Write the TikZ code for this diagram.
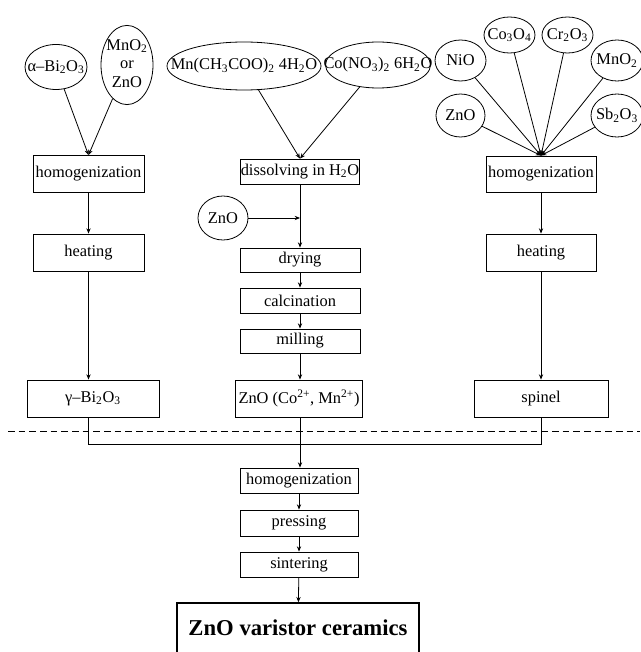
\documentclass[tikz,border=0pt]{standalone}
\usepackage{fontspec}
\setmainfont{Liberation Serif}
\usetikzlibrary{shapes.geometric,arrows.meta}
\newcommand{\zw}[1]{\makebox[0pt]{#1}}
\newcommand{\sub}[1]{\textsubscript{#1}}

\begin{document}
\begin{tikzpicture}[x=0.75pt,y=-0.75pt,line width=0.6pt,
    font=\fontsize{12.3}{14}\selectfont,
    box/.style 2 args={draw,rectangle,inner sep=0pt,minimum width=#1*0.75pt,minimum height=#2*0.75pt},
    oval/.style 2 args={draw,ellipse,inner sep=0pt,minimum width=#1*0.75pt,minimum height=#2*0.75pt},
    arr/.style={arrows={-Stealth[length=4pt,width=3.2pt]}}]
    \useasboundingbox (0,0) rectangle (640,652);
    % left branch
    \node[oval={62}{45}] (a1) at (56,67) {\zw{α--Bi\sub{2}O\sub{3}}};
    \node[oval={52}{75}] (a2) at (127,65) {\zw{\begin{tabular}{@{}c@{}}MnO\sub{2}\\or\\ZnO\end{tabular}}};
    \node[box={111}{37}] (h1) at (88.5,174) {homogenization};
    \node[box={111}{37}] (t1) at (88.5,252.5) {heating};
    \node[box={132}{37}] (g) at (93,398.5) {γ--Bi\sub{2}O\sub{3}};
    % middle branch
    \node[oval={154}{48}] (m1) at (244,66) {\zw{Mn(CH\sub{3}COO)\sub{2} 4H\sub{2}O}};
    \node[oval={105}{46}] (m2) at (378,65) {\zw{Co(NO\sub{3})\sub{2} 6H\sub{2}O}};
    \node[box={118}{25}] (d) at (300,171.5) {dissolving in H\sub{2}O};
    \node[oval={50}{44}] (z) at (223,218) {\zw{ZnO}};
    \coordinate (j) at (300,218);
    \node[box={120}{24}] (dr) at (300,260) {drying};
    \node[box={120}{25}] (ca) at (300,300.5) {calcination};
    \node[box={120}{24}] (mi) at (300,341) {milling};
    \node[box={127}{37}] (zc) at (299,398.5) {ZnO (Co\textsuperscript{2+}, Mn\textsuperscript{2+})};
    % right branch
    \node[oval={51}{41}] (r1) at (460.5,60.5) {\zw{NiO}};
    \node[oval={51}{36}] (r2) at (509.5,35) {\zw{Co\sub{3}O\sub{4}}};
    \node[oval={51}{36}] (r3) at (567.5,35) {\zw{Cr\sub{2}O\sub{3}}};
    \node[oval={52}{41}] (r4) at (617,60.5) {\zw{MnO\sub{2}}};
    \node[oval={49}{43}] (r5) at (460.5,115.5) {\zw{ZnO}};
    \node[oval={52}{43}] (r6) at (617,115.5) {\zw{Sb\sub{2}O\sub{3}}};
    \node[box={110}{36}] (h3) at (541,174) {homogenization};
    \node[box={110}{37}] (t3) at (541,252.5) {heating};
    \node[box={134}{37}] (sp) at (541,398.5) {spinel};
    % common part
    \coordinate (bus) at (300,444);
    \node[box={118}{25}] (hb) at (299,480.5) {homogenization};
    \node[box={118}{26}] (pr) at (299,523) {pressing};
    \node[box={118}{25}] (si) at (299,564.5) {sintering};
    \node[box={242}{50},line width=1.1pt,font=\fontsize{17}{20}\selectfont\bfseries] (zv) at (298,628) {ZnO varistor ceramics};

    \draw[arr] (a1)--(h1.north);
    \draw[arr] (a2)--(h1.north);
    \draw[arr] (h1)--(t1);
    \draw[arr] (t1)--(t1 |- g.north);
    \draw[arr] (m1)--(d.north);
    \draw[arr] (m2)--(d.north);
    \draw[arr] (z)--(j);
    \draw[arr] (d)--(dr);
    \draw[arr] (dr)--(ca);
    \draw[arr] (ca)--(mi);
    \draw[arr] (mi)--(mi |- zc.north);
    \foreach \n in {r1,r2,r3,r4,r5,r6}
        \draw[arr] (\n)--(h3.north);
    \draw[arr] (h3)--(t3);
    \draw[arr] (t3)--(sp);
    \draw[dashed,dash pattern=on 5pt off 3pt] (8,431)--(640,431);
    \draw (t1 |- g.south)--(t1 |- bus)--(sp |- bus)--(sp.south);
    \draw[arr] (bus |- zc.south)--(bus |- hb.north);
    \draw[arr] (hb)--(pr);
    \draw[arr] (pr)--(si);
    \draw[arr] (si)--(zv);
\end{tikzpicture}
\end{document}
